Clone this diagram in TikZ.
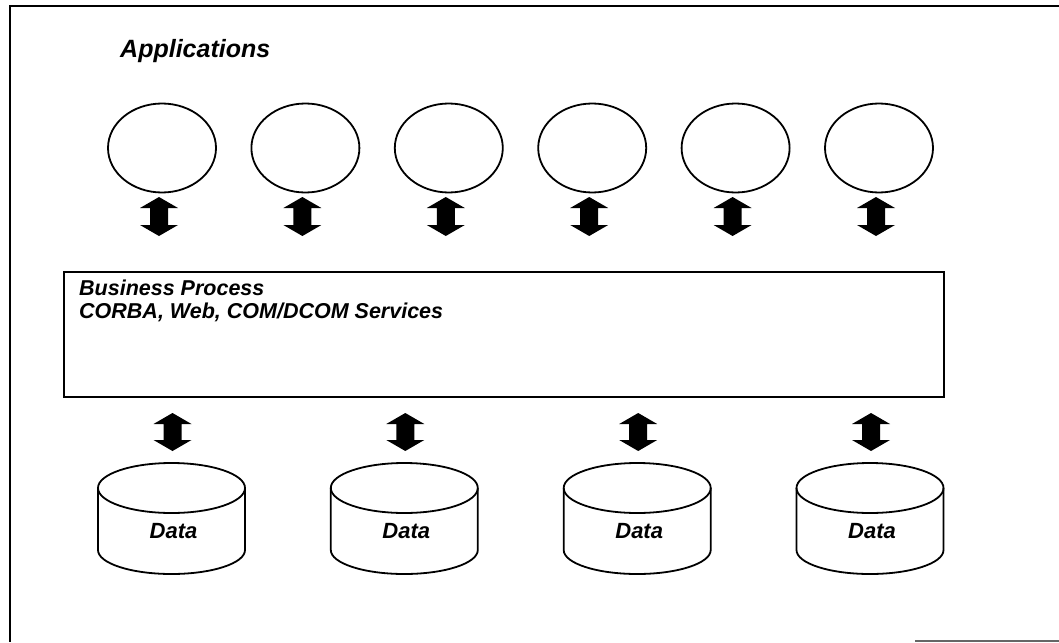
\documentclass[tikz,border=0pt]{standalone}
\usepackage{fontspec}
\setmainfont{Liberation Sans}
\usetikzlibrary{shapes.geometric}
\newcommand\fatarrow[3]{% x, ytop, ybottom
  \fill[black] (#1,#2) -- (#1+19,#2+11) -- (#1+9,#2+11) -- (#1+9,#3-11) -- (#1+19,#3-11)
    -- (#1,#3) -- (#1-19,#3-11) -- (#1-9,#3-11) -- (#1-9,#2+11) -- (#1-19,#2+11) -- cycle;}
\newcommand\datacyl[2]{% x, name
  \coordinate (#2) at (#1,519);
  \draw[line width=1.8pt] (#1,488) ellipse [x radius=73.5, y radius=25];
  \draw[line width=1.8pt] (#1-73.5,488) -- (#1-73.5,550) arc[start angle=180,end angle=0,x radius=73.5,y radius=24] -- (#1+73.5,488);
  \node[lbl, font=\fontsize{22}{26}\selectfont\bfseries\itshape, anchor=base] at (#1+2,538) {Data};}
\begin{document}
\begin{tikzpicture}[x=1pt,y=-1pt,
  lbl/.style={font=\fontsize{21.5}{23}\selectfont\bfseries\itshape, inner sep=0pt},
  app/.style={ellipse, draw, line width=1.8pt, minimum width=108pt, minimum height=89pt, inner sep=0pt}]
\useasboundingbox (0,0) rectangle (1059,642);
% frame
\draw[line width=2pt] (1065,6) -- (10,6) -- (10,642);
\draw[line width=1.2pt, black!60] (915,641) -- (1065,641);
% title
\node[lbl, font=\fontsize{25}{28}\selectfont\bfseries\itshape, anchor=base west] (title) at (120,57) {Applications};
% applications
\foreach \i/\x in {1/162,2/305.4,3/448.8,4/592.2,5/735.6,6/879}{
  \node[app] (a\i) at (\x,148) {};
  \fatarrow{\x-3}{197}{236}
}
% box
\node[draw, line width=2.2pt, minimum width=880pt, minimum height=125pt, anchor=north west, inner sep=0pt] (bp) at (63,271) {};
\node[lbl, anchor=base west, align=left] (bpt) at (79,295) {Business Process};
\node[lbl, anchor=base west, align=left] (bpt2) at (79,318) {CORBA, Web, COM/DCOM Services};
% data
\foreach \i/\x in {1/171.5,2/404.3,3/637.2,4/870}{
  \fatarrow{\x+1}{413}{451}
  \datacyl{\x}{d\i}
}
\end{tikzpicture}
\end{document}
